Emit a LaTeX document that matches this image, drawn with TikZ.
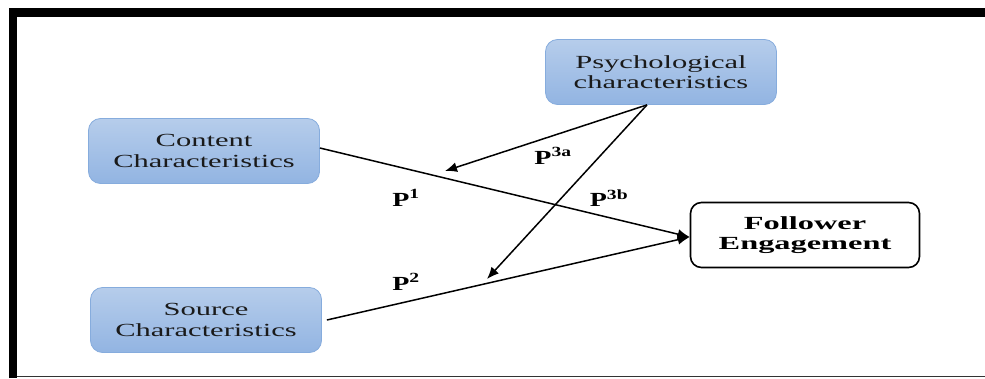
\documentclass[tikz,border=0pt]{standalone}
\usepackage{fontspec}
\setmainfont{Liberation Serif}
\newfontfamily\nodefont[FakeStretch=1.65]{Liberation Serif}
\newfontfamily\folfont[FakeStretch=1.75]{Liberation Serif}
\newfontfamily\labfont[FakeStretch=1.4]{Liberation Serif}
\usetikzlibrary{arrows.meta}
\definecolor{boxtop}{HTML}{B6CDEB}
\definecolor{boxbot}{HTML}{92B4E2}
\definecolor{boxline}{HTML}{86ACDD}
\definecolor{txt}{HTML}{1A1A1A}
\tikzset{
  bluebox/.style={rounded corners=12pt, top color=boxtop, bottom color=boxbot, draw=boxline, line width=0.8pt,
    minimum width=231pt, minimum height=65pt, align=center, text=txt,
    font=\nodefont\fontsize{18.5}{20.5}\selectfont, inner sep=0pt},
  whitebox/.style={rounded corners=11pt, fill=white, draw=black, line width=1.6pt,
    minimum width=229pt, minimum height=65pt, align=center,
    font=\folfont\fontsize{18.5}{20.5}\selectfont\bfseries, inner sep=0pt},
  conn/.style={line width=1.5pt, black},
  arr/.style={conn, -{Latex[length=12pt,width=10pt]}},
  plab/.style={font=\labfont\fontsize{20}{22}\selectfont\bfseries, inner sep=0pt}
}
\begin{document}
\begin{tikzpicture}[x=1pt,y=-1pt]
\useasboundingbox (0,0) rectangle (985,378);
\fill[white] (0,0) rectangle (985,378);
% frame
\draw[line width=1pt, black!80] (9,376) -- (985,376);
\draw[line width=8.5pt, black] (13,378) -- (13,12.5) -- (985,12.5);
% nodes
\node[bluebox] (psych) at (661,72) {Psychological\\characteristics};
\node[bluebox] (content) at (204,151) {Content\\Characteristics};
\node[bluebox] (source) at (206,320) {Source\\Characteristics};
\node[whitebox] (follow) at (805,235) {Follower\\Engagement};
% free ends
\coordinate (e3a) at (445,171);
\coordinate (e3b) at (487,279);
% connectors
\draw[arr] ([yshift=3pt]content.east) -- ([yshift=-2pt]follow.west);
\draw[arr] ([xshift=5pt]source.east) -- ([yshift=-2pt]follow.west);
\draw[arr] ([xshift=-14pt]psych.south) -- (e3a);
\draw[arr] ([xshift=-14pt]psych.south) -- (e3b);
% labels
\node[plab] (p3a) at (553,156) {P\textsuperscript{3a}};
\node[plab] (p1) at (406,198) {P\textsuperscript{1}};
\node[plab] (p3b) at (609,198) {P\textsuperscript{3b}};
\node[plab] (p2) at (406,282) {P\textsuperscript{2}};
\end{tikzpicture}
\end{document}
